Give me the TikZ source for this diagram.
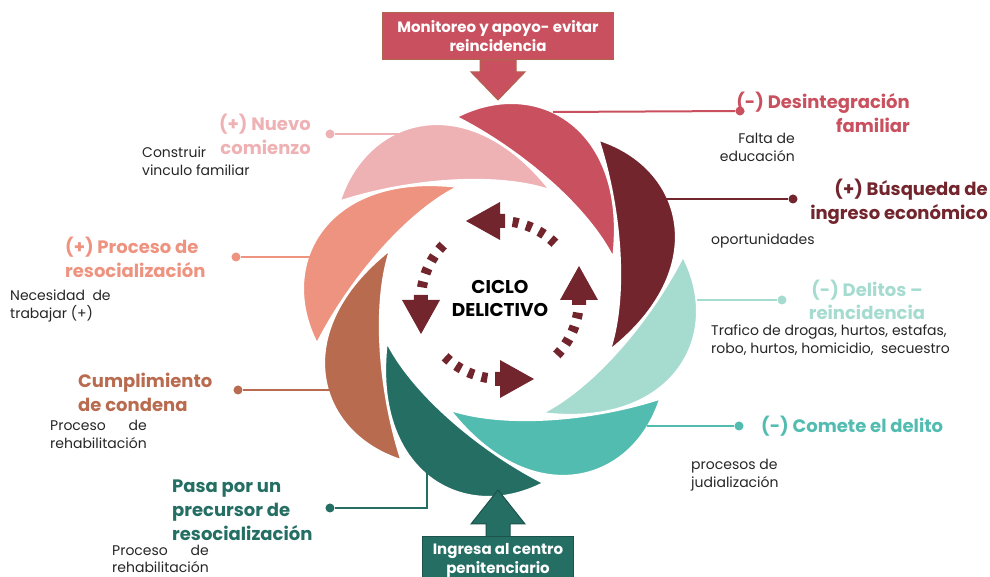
\documentclass[tikz,border=0pt]{standalone}
\usepackage{fontspec}
\setmainfont{Poppins}
\usepackage{calc}
\definecolor{cr}{HTML}{C9505E}
\definecolor{mr}{HTML}{72252D}
\definecolor{mt}{HTML}{A6DBCF}
\definecolor{tl}{HTML}{52BCB1}
\definecolor{dt}{HTML}{246E64}
\definecolor{sn}{HTML}{B96B50}
\definecolor{sm}{HTML}{EE9380}
\definecolor{pk}{HTML}{EEB1B4}
\definecolor{cb}{HTML}{B0644F}
\definecolor{db}{HTML}{1B534B}
\definecolor{txt}{HTML}{262626}
\tikzstyle{enddot} = [circle, minimum width=9pt, fill, inner sep=0pt]
\tikzstyle{lbl} = [font=\fontsize{18}{24}\selectfont\bfseries, inner sep=0pt]
\tikzstyle{sub} = [font=\fontsize{14}{18}\selectfont, text=txt, inner sep=0pt]
\tikzstyle{link} = [line width=2pt]
\tikzstyle{cyc} = [mr, line width=10pt, dash pattern=on 6pt off 8pt]
\tikzstyle{box} = [font=\fontsize{15}{19}\selectfont\bfseries, text=white, align=center, line width=1pt, inner sep=0pt]
\newcommand{\procreh}{\makebox[\widthof{rehabilitación}][s]{Proceso\hfill de}\\rehabilitación}

\begin{document}
\begin{tikzpicture}[x=1pt,y=1pt]
	\clip (-500,-277) rectangle (490,300);
	% petals
	\foreach \c [count=\i from 0] in {cr,mr,mt,tl,dt,sn,sm,pk}
		\fill[\c, draw=white, line width=1.5pt, rotate=-45*\i] (-43,183) .. controls (37,224) and (128,172) .. (113,43) .. controls (86,96) and (18,152) .. cycle;
	% cycle arrows
	\foreach \k in {0,...,3} {
		\draw[cyc] ({46+90*\k}:79) arc[start angle={46+90*\k}, end angle={84+90*\k}, radius=79];
		\fill[mr, rotate=90*\k] (5,72) -- (0,72) -- (0,60) -- (-34,79) -- (0,98) -- (0,86) -- (5,86) -- cycle;
	}
	\node[font=\fontsize{18.5}{23}\selectfont\bfseries, align=center] (ciclo) at (0,1.5) {CICLO\\DELICTIVO};
	% boxes
	\fill[cr, draw=cb, line width=1pt] (-20,240) -- (-20,228) -- (-29,228) -- (-2,200) -- (25,228) -- (16,228) -- (16,240) -- cycle;
	\node[box, fill=cr, draw=cb, minimum width=230pt, minimum height=47pt] (mon) at (-2,263.5) {Monitoreo y apoyo- evitar\\reincidencia};
	\fill[dt, draw=db, line width=1pt] (-14,-237) -- (-14,-224) -- (-29,-224) -- (-2,-190) -- (25,-224) -- (10,-224) -- (10,-237) -- cycle;
	\node[box, fill=dt, draw=db, minimum width=150pt, minimum height=46pt] (ing) at (-2,-260) {Ingresa al centro\\penitenciario};
	% petal ends
	\coordinate (p1) at (53,188);
	\coordinate (p2) at (165,101);
	\coordinate (p3) at (197,0);
	\coordinate (p4) at (147,-126);
	\coordinate (p5) at (-73,-150);
	\coordinate (p5b) at (-73,-208);
	\coordinate (p6) at (-160,-90);
	\coordinate (p7) at (-170,43);
	\coordinate (p8) at (-25,166);
	% dots
	\node[enddot, cr] (d1) at (240,189) {};
	\node[enddot, mr] (d2) at (293,101) {};
	\node[enddot, mt] (d3) at (282,0) {};
	\node[enddot, tl] (d4) at (239,-126) {};
	\node[enddot, dt] (d5) at (-170,-208) {};
	\node[enddot, sn] (d6) at (-262,-90) {};
	\node[enddot, sm] (d7) at (-264,43) {};
	\node[enddot, pk] (d8) at (-170,166) {};
	\draw[link, cr] (p1) -- (d1);
	\draw[link, mr] (p2) -- (d2);
	\draw[link, mt] (p3) -- (d3);
	\draw[link, tl] (p4) -- (d4);
	\draw[link, dt] (p5) -- (p5b) -- (d5);
	\draw[link, sn] (p6) -- (d6);
	\draw[link, sm] (p7) -- (d7);
	\draw[link, pk] (p8) -- (d8);
	% labels
	\node[lbl, cr, anchor=east, align=right] (l1) at (410,188) {(-) Desintegración\\familiar};
	\node[sub, anchor=east, align=right] (s1) at (295,153) {Falta de\\educación};
	\node[lbl, mr, anchor=east, align=right] (l2) at (488,98.5) {(+) Búsqueda de\\ingreso económico};
	\node[sub, anchor=west] (s2) at (211,59) {oportunidades};
	\node[lbl, mt, align=center, font=\fontsize{18}{23}\selectfont\bfseries] (l3) at (367,0.5) {(-) Delitos –\\reincidencia};
	\node[sub, anchor=west, align=left] (s3) at (211,-40.5) {Trafico de drogas, hurtos, estafas,\\robo, hurtos, homicidio,\ \ secuestro};
	\node[lbl, tl, anchor=west] (l4) at (261,-126) {(-) Comete el delito};
	\node[sub, anchor=west, align=left] (s4) at (191,-175.5) {procesos de\\judialización};
	\node[lbl, dt, anchor=west, align=left] (l5) at (-328,-210) {Pasa por un\\precursor de\\resocialización};
	\node[sub, anchor=west, align=left, font=\fontsize{14}{17}\selectfont] (s5) at (-388,-259) {\procreh};
	\node[lbl, sn, anchor=west, align=left] (l6) at (-422,-92) {Cumplimiento\\de condena};
	\node[sub, anchor=west, align=left] (s6) at (-450,-134.5) {\procreh};
	\node[lbl, sm, anchor=west, align=left] (l7) at (-435,43) {(+) Proceso de\\resocialización};
	\node[sub, anchor=west, align=left] (s7) at (-490,-6) {Necesidad\ \ de\\trabajar (+)};
	\node[lbl, pk, anchor=east, align=right] (l8) at (-189,165.5) {(+) Nuevo\\comienzo};
	\node[sub, anchor=west, align=left] (s8) at (-358,139) {Construir\\vinculo familiar};
\end{tikzpicture}
\end{document}
